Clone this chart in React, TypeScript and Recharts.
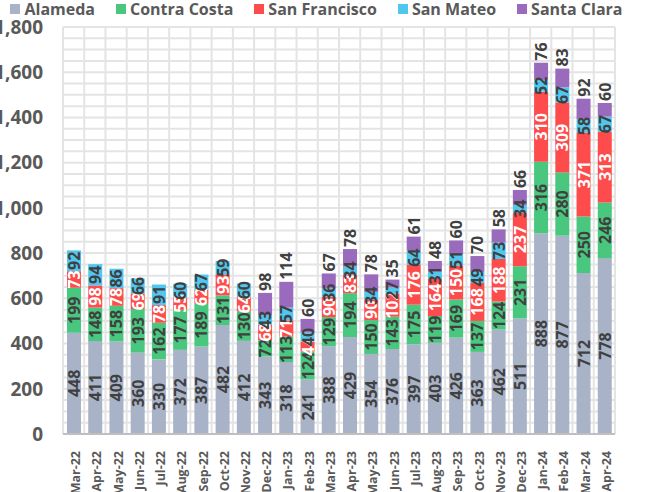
import React from 'react';
import { BarChart, Bar, XAxis, YAxis, CartesianGrid, Legend, LabelList } from 'recharts';

const months = [
  'Mar-22', 'Apr-22', 'May-22', 'Jun-22', 'Jul-22', 'Aug-22', 'Sep-22', 'Oct-22', 'Nov-22',
  'Dec-22', 'Jan-23', 'Feb-23', 'Mar-23', 'Apr-23', 'May-23', 'Jun-23', 'Jul-23', 'Aug-23',
  'Sep-23', 'Oct-23', 'Nov-23', 'Dec-23', 'Jan-24', 'Feb-24', 'Mar-24', 'Apr-24',
];
const alameda = [448, 411, 409, 360, 330, 372, 387, 482, 412, 343, 318, 241, 388, 429, 354, 376, 397, 403, 426, 363, 462, 511, 888, 877, 712, 778];
const contraCosta = [199, 148, 158, 193, 162, 177, 189, 131, 130, 72, 113, 124, 129, 194, 150, 143, 175, 119, 169, 137, 124, 231, 316, 280, 250, 246];
const sanFrancisco = [73, 98, 78, 69, 78, 55, 62, 93, 64, 68, 71, 44, 90, 83, 90, 102, 176, 164, 150, 168, 188, 237, 310, 309, 371, 313];
const sanMateo = [92, 94, 86, 66, 91, 60, 67, 59, 60, 43, 57, 40, 36, 34, 34, 27, 64, 31, 51, 49, 73, 34, 52, 67, 58, 67];
const santaClara = [null, null, null, null, null, null, null, null, null, 98, 114, 60, 67, 78, 78, 35, 61, 48, 60, 70, 58, 66, 76, 83, 92, 60];
const yTicks = [0, 200, 400, 600, 800, 1000, 1200, 1400, 1600, 1800];

const series = [
  { key: 'alameda', name: 'Alameda', color: '#a8b3c7', text: '#404040' },
  { key: 'contraCosta', name: 'Contra Costa', color: '#49c77e', text: '#404040' },
  { key: 'sanFrancisco', name: 'San Francisco', color: '#fe4b4b', text: '#ffffff' },
  { key: 'sanMateo', name: 'San Mateo', color: '#4fc7ef', text: '#404040' },
  { key: 'santaClara', name: 'Santa Clara', color: '#9a6bbd', text: '#404040' },
];

const data = months.map((m, i) => ({
  month: m,
  alameda: alameda[i],
  contraCosta: contraCosta[i],
  sanFrancisco: sanFrancisco[i],
  sanMateo: sanMateo[i],
  santaClara: santaClara[i],
}));

const FONT = '"Open Sans", sans-serif';
const YMAX = 1800;

const makeLabel = (color: string, above: boolean) => (props: any) => {
  const { x, y, width, height, value } = props;
  if (value == null) return null;
  const cx = Number(x) + Number(width) / 2;
  const cy = above ? Number(y) - 2 : Number(y) + Number(height) / 2;
  return (
    <text
      transform={`translate(${cx},${cy}) rotate(-90)`}
      textAnchor={above ? 'start' : 'middle'}
      dominantBaseline="central"
      fill={color}
      fontFamily={FONT}
      fontWeight={700}
      fontSize={16}
    >
      {value}
    </text>
  );
};

const MonthTick = (props: any) => {
  const { x, y, payload } = props;
  return (
    <text
      transform={`translate(${x + 2},${y + 9}) rotate(-90)`}
      textAnchor="end"
      dominantBaseline="central"
      fill="#595959"
      fontFamily={FONT}
      fontWeight={700}
      fontSize={12.5}
    >
      {payload.value}
    </text>
  );
};

const LegendBox = () => (
  <div style={{ display: 'flex', justifyContent: 'center', gap: 21, height: 27, fontFamily: FONT, marginLeft: -14 }}>
    {series.map((s) => (
      <div key={s.key} style={{ display: 'flex', alignItems: 'center', height: 18 }}>
        <span style={{ width: 10, height: 10, background: s.color, display: 'inline-block', marginRight: 4 }} />
        <span style={{ fontSize: 16, fontWeight: 700, color: '#595959', lineHeight: '18px' }}>{s.name}</span>
      </div>
    ))}
  </div>
);

export default function App() {
  return (
    <div style={{ position: 'absolute', left: 0, top: 0, background: '#fff' }}>
      <BarChart width={647} height={492} data={data} margin={{ top: 0, right: 32, left: 0, bottom: 0 }} barSize={14}>
        <CartesianGrid
          stroke="#e4e4e4"
          strokeWidth={2}
          horizontalCoordinatesGenerator={({ offset }: any) => {
            const pts: number[] = [];
            for (let v = 0; v <= YMAX; v += 50) pts.push(offset.top + offset.height * (1 - v / YMAX));
            return pts;
          }}
          verticalCoordinatesGenerator={({ offset }: any) => {
            const pts: number[] = [];
            for (let i = 0; i <= months.length; i++) pts.push(offset.left + (offset.width * i) / months.length);
            return pts;
          }}
        />
        <XAxis
          dataKey="month"
          interval={0}
          height={58}
          tickLine={false}
          axisLine={{ stroke: '#bfbfbf', strokeWidth: 2 }}
          tick={<MonthTick />}
        />
        <YAxis
          width={63}
          domain={[0, YMAX]}
          ticks={yTicks}
          interval={0}
          axisLine={false}
          tickLine={false}
          tickSize={0}
          tickMargin={20}
          tickFormatter={(v: number) => v.toLocaleString('en-US')}
          tick={{ fill: '#595959', fontSize: 19, fontWeight: 700, fontFamily: FONT }}
        />
        <Legend verticalAlign="top" content={<LegendBox />} wrapperStyle={{ top: 0, left: 0, width: 647 }} />
        {series.map((s) => (
          <Bar key={s.key} dataKey={s.key} name={s.name} stackId="a" fill={s.color} isAnimationActive={false}>
            <LabelList dataKey={s.key} content={makeLabel(s.text, s.key === 'santaClara')} />
          </Bar>
        ))}
      </BarChart>
    </div>
  );
}
